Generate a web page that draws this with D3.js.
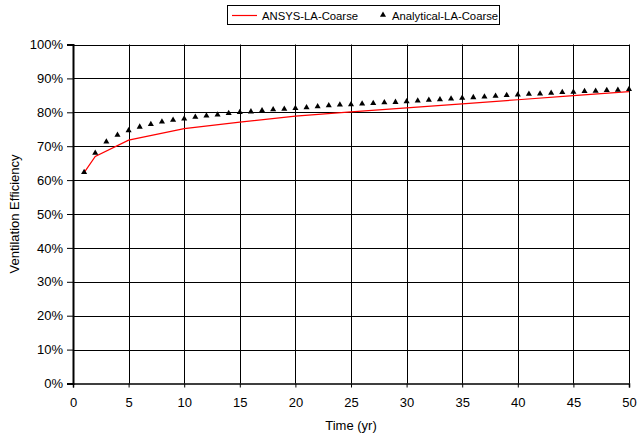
<!DOCTYPE html>
<html>
<head>
<meta charset="utf-8">
<script src="https://cdn.jsdelivr.net/npm/d3@7"></script>
<style>
  html, body { margin: 0; padding: 0; background: #fff; }
  svg { display: block; }
  text { font-family: "Liberation Sans", Arial, sans-serif; fill: #000; }
</style>
</head>
<body>
<svg id="chart" width="639" height="436"></svg>
<script>
// ---- data ----
const ansysYears = [1, 2, 5, 10, 15, 20, 25, 30, 35, 40, 45, 50];
const ansysValues = [0.622, 0.670, 0.718, 0.752, 0.771, 0.789, 0.801, 0.813, 0.825, 0.837, 0.849, 0.861];

const analyticalYears = d3.range(1, 51);
const analyticalValues = [
  0.623, 0.680, 0.713, 0.733, 0.746, 0.757, 0.765, 0.772, 0.777, 0.781,
  0.786, 0.790, 0.793, 0.797, 0.800, 0.802, 0.805, 0.808, 0.810, 0.812,
  0.814, 0.817, 0.820, 0.822, 0.823, 0.825, 0.827, 0.829, 0.830, 0.832,
  0.834, 0.836, 0.838, 0.840, 0.842, 0.844, 0.846, 0.848, 0.850, 0.852,
  0.854, 0.855, 0.857, 0.859, 0.860, 0.862, 0.863, 0.865, 0.866, 0.868
];

const xTicks = [0, 5, 10, 15, 20, 25, 30, 35, 40, 45, 50];
const yTicks = [0, 0.1, 0.2, 0.3, 0.4, 0.5, 0.6, 0.7, 0.8, 0.9, 1.0];
const seriesNames = ["ANSYS-LA-Coarse", "Analytical-LA-Coarse"];
const xTitle = "Time (yr)";
const yTitle = "Ventilation Efficiency";

// ---- layout ----
const svg = d3.select("#chart");
const mL = 73, mR = 629, mT = 44.5, mB = 383.5;

const x = d3.scaleLinear().domain([0, 50]).range([mL, mR]);
const y = d3.scaleLinear().domain([0, 1]).range([mB, mT]);

// gridlines
const grid = svg.append("g").attr("class", "grid");
grid.selectAll("line.h").data(yTicks.filter(d => d > 0)).enter().append("line")
  .attr("x1", mL).attr("x2", mR)
  .attr("y1", d => Math.round(y(d)) + 0.5).attr("y2", d => Math.round(y(d)) + 0.5)
  .attr("stroke", "#000").attr("stroke-width", 1);
grid.selectAll("line.v").data(xTicks.filter(d => d > 0)).enter().append("line")
  .attr("x1", d => Math.round(x(d)) + 0.5).attr("x2", d => Math.round(x(d)) + 0.5)
  .attr("y1", mT).attr("y2", mB)
  .attr("stroke", "#000").attr("stroke-width", 1);

// y axis
const yAxis = d3.axisLeft(y).tickValues(yTicks).tickFormat(d3.format(".0%")).tickSize(6).tickPadding(4);
const gy = svg.append("g").attr("transform", `translate(${mL},0)`).call(yAxis);
gy.select(".domain").attr("stroke", "#000").attr("stroke-width", 2);
gy.selectAll(".tick line").attr("stroke", "#000");
gy.selectAll(".tick text").attr("font-size", 13).attr("font-family", "Liberation Sans, Arial, sans-serif");

// x axis
const xAxis = d3.axisBottom(x).tickValues(xTicks).tickSize(4).tickPadding(10);
const gx = svg.append("g").attr("transform", `translate(0,${mB})`).call(xAxis);
gx.select(".domain").attr("stroke", "#000").attr("stroke-width", 1.5);
gx.selectAll(".tick line").attr("stroke", "#000");
gx.selectAll(".tick text").attr("font-size", 13).attr("font-family", "Liberation Sans, Arial, sans-serif");

// axis titles
svg.append("text").attr("x", (mL + mR) / 2).attr("y", 429.5)
  .attr("text-anchor", "middle").attr("font-size", 13).text(xTitle);
svg.append("text").attr("transform", `translate(19,${(mT + mB) / 2}) rotate(-90)`)
  .attr("text-anchor", "middle").attr("font-size", 13).text(yTitle);

// ANSYS line
const ansys = ansysYears.map((d, i) => [d, ansysValues[i]]);
svg.append("path").datum(ansys)
  .attr("fill", "none").attr("stroke", "#ff0000").attr("stroke-width", 1.2)
  .attr("d", d3.line().x(d => x(d[0])).y(d => y(d[1])));

// Analytical triangles
const tri = d3.symbol().type(d3.symbolTriangle).size(16);
svg.append("g").selectAll("path").data(analyticalYears.map((d, i) => [d, analyticalValues[i]]))
  .enter().append("path")
  .attr("d", tri)
  .attr("transform", d => `translate(${x(d[0])},${y(d[1])})`)
  .attr("fill", "#000");

// legend
const lg = svg.append("g");
lg.append("rect").attr("x", 227.5).attr("y", 5.5).attr("width", 272).attr("height", 19)
  .attr("fill", "#fff").attr("stroke", "#000").attr("stroke-width", 1);
lg.append("line").attr("x1", 232).attr("x2", 257).attr("y1", 15.5).attr("y2", 15.5)
  .attr("stroke", "#ff0000").attr("stroke-width", 1.2);
lg.append("text").attr("x", 262).attr("y", 19.5).attr("font-size", 11.3).text(seriesNames[0]);
lg.append("path").attr("d", tri).attr("transform", "translate(383,15)").attr("fill", "#000");
lg.append("text").attr("x", 392).attr("y", 19.5).attr("font-size", 11.3).text(seriesNames[1]);
</script>
</body>
</html>
